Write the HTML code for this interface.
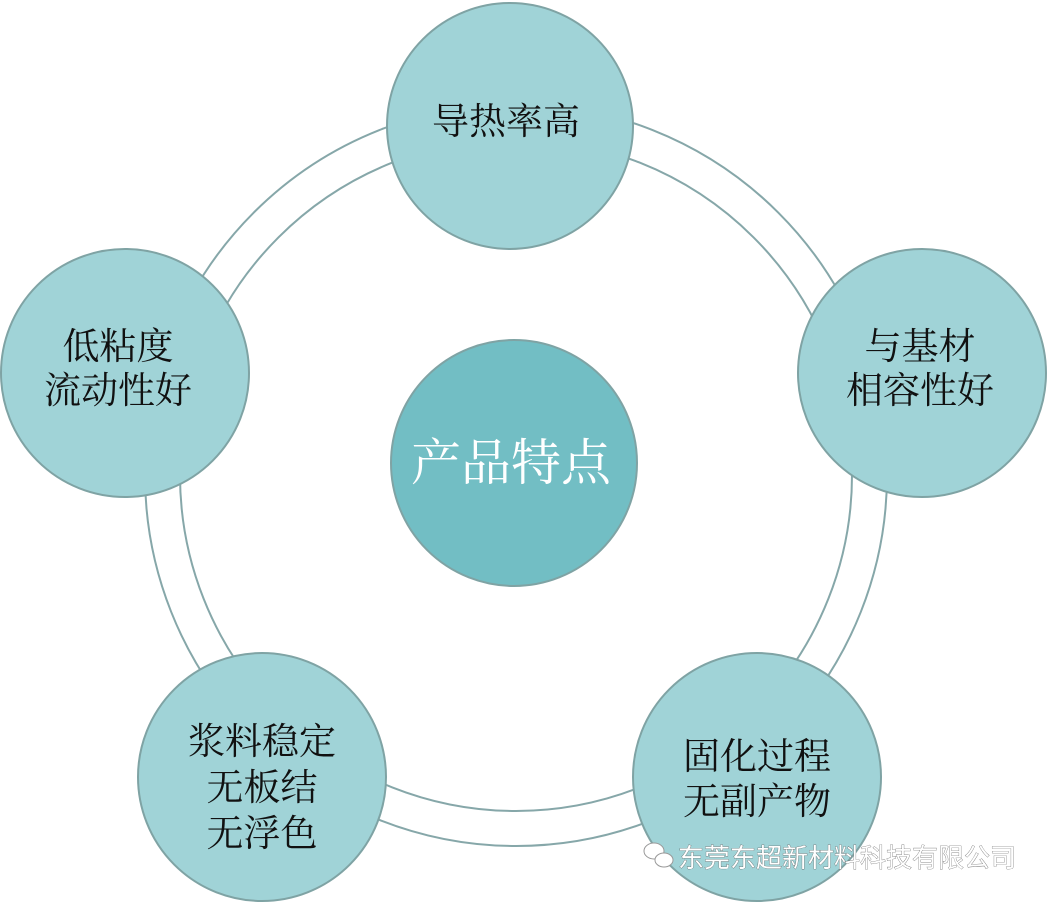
<!DOCTYPE html>
<html><head><meta charset="utf-8"><style>
body{margin:0;background:#fff}
svg{display:block}
.t{font-family:"Liberation Serif","Noto Serif CJK SC",serif;font-size:37px;fill:#111;text-anchor:middle}
</style></head><body>
<svg width="1049" height="903" viewBox="0 0 1049 903">
<circle cx="516" cy="475" r="353.5" fill="none" stroke="#86a7a9" stroke-width="37"/>
<circle cx="516" cy="475" r="353.5" fill="none" stroke="#fff" stroke-width="33"/>
<g fill="#a0d3d7" stroke="#7fa3a4" stroke-width="2">
<circle cx="510" cy="126" r="123"/>
<circle cx="922" cy="373" r="124"/>
<circle cx="757" cy="777" r="124"/>
<circle cx="262" cy="777" r="124"/>
<circle cx="125" cy="373" r="124"/>
<circle cx="514" cy="463" r="123" fill="#72bec4"/>
</g>
<text class="t" x="506" y="134">导热率高</text>
<text class="t" x="920" y="359">与基材</text>
<text class="t" x="920" y="403">相容性好</text>
<text class="t" x="757" y="769">固化过程</text>
<text class="t" x="757" y="814">无副产物</text>
<text class="t" x="262" y="754">浆料稳定</text>
<text class="t" x="262" y="800">无板结</text>
<text class="t" x="262" y="846">无浮色</text>
<text class="t" x="118" y="359">低粘度</text>
<text class="t" x="118" y="403">流动性好</text>
<text class="t" x="511" y="480" style="font-size:50px;fill:#fff">产品特点</text>
<g fill="#fff" stroke="#999" stroke-width="1">
<ellipse cx="654" cy="851" rx="10" ry="8"/>
<ellipse cx="664" cy="860" rx="9" ry="7"/>
</g>
<text x="678" y="867" style="font-family:'Liberation Sans','Noto Sans CJK SC',sans-serif;font-size:26px;fill:#fff;stroke:#555;stroke-width:0.6;paint-order:stroke">东莞东超新材料科技有限公司</text>
</svg>
</body></html>
